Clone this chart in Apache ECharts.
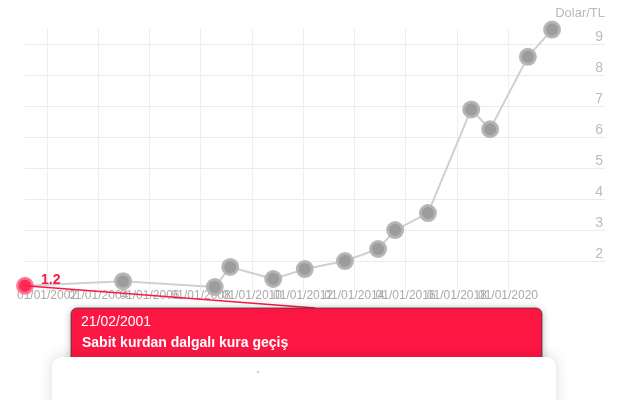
<!DOCTYPE html>
<html>
<head>
<meta charset="utf-8">
<script src="https://cdn.jsdelivr.net/npm/echarts@6/dist/echarts.min.js"></script>
<style>html,body{margin:0;padding:0;background:#fff;}#c{width:619px;height:400px;}</style>
</head>
<body>
<div id="c"></div>
<script>
var dates = ['2001-02-21','2004-12-20','2008-07-20','2009-02-25','2010-11-01','2012-01-25','2013-08-20','2014-12-05','2015-08-05','2016-11-15','2018-07-25','2019-04-20','2020-10-10','2021-09-20'];
var rates = [1.2,1.35,1.16,1.81,1.42,1.74,2.0,2.39,3.0,3.55,6.9,6.26,8.6,9.48];
var xTickDates = ['2002-01-01','2004-01-01','2006-01-01','2008-01-01','2010-01-01','2012-01-01','2014-01-01','2016-01-01','2018-01-01','2020-01-01'];
var xRange = ['2001-02-21','2023-10-15'];
var yTicks = [2,3,4,5,6,7,8,9];
var yAxisName = 'Dolar/TL';
var noteDate = '21/02/2001';
var noteText = 'Sabit kurdan dalgalı kura geçiş';
var highlightIndex = 0;

var FONT = "'Liberation Sans', Arial, sans-serif";
var RED = '#ff1744';
function ts(d) { return Date.parse(d + 'T00:00:00Z'); }

var chart = echarts.init(document.getElementById('c'), null, {renderer: 'canvas'});

var seriesData = dates.map(function (d, i) {
  var item = { value: [ts(d), rates[i]] };
  if (i === highlightIndex) {
    item.symbolSize = 15;
    item.itemStyle = { color: '#ff2a55', borderColor: 'rgba(255,110,140,0.85)', borderWidth: 3 };
    item.label = {
      show: true, position: 'right', distance: 7, offset: [0, -6],
      formatter: function (p) { return String(p.value[1]); },
      color: RED, fontWeight: 'bold', fontSize: 14, fontFamily: FONT
    };
  }
  return item;
});

var xMin = ts(xRange[0]), xMax = ts(xRange[1]);
var xTickValues = xTickDates.map(ts);
// guard values at the axis ends carry empty labels so every real label stays visible
var xLabelValues = [xMin].concat(xTickValues, [xMax]);

chart.setOption({
  animation: false,
  grid: { left: 25, right: 14, top: 29, bottom: 108, containLabel: false },
  xAxis: {
    type: 'value',
    min: xMin,
    max: xMax,
    axisLine: { show: false },
    axisTick: { show: false, customValues: xTickValues },
    splitLine: { show: true, lineStyle: { color: '#eeeeee', width: 1 } },
    axisLabel: {
      customValues: xLabelValues,
      showMinLabel: false,
      showMaxLabel: false,
      margin: -2,
      color: '#aaaaaa',
      fontSize: 12,
      fontFamily: FONT,
      hideOverlap: false,
      formatter: function (v) {
        if (v === xMin || v === xMax) return '';
        var d = new Date(v);
        return '01/01/' + d.getUTCFullYear();
      }
    }
  },
  yAxis: {
    type: 'value',
    position: 'right',
    min: 1,
    max: 9.5,
    interval: 1,
    name: yAxisName,
    nameLocation: 'end',
    nameGap: 16,
    nameTextStyle: { color: '#bbbbbb', fontSize: 13, fontFamily: FONT, align: 'right', verticalAlign: 'middle' },
    axisLine: { show: false },
    axisTick: { show: false, customValues: yTicks },
    splitLine: { show: true, lineStyle: { color: '#ebebeb', width: 1 } },
    axisLabel: {
      customValues: yTicks,
      inside: true,
      margin: 2,
      verticalAlign: 'bottom',
      color: '#bbbbbb',
      fontSize: 14,
      fontFamily: FONT
    }
  },
  series: [{
    type: 'line',
    data: seriesData,
    clip: false,
    symbol: 'circle',
    symbolSize: 15,
    lineStyle: { color: '#d0d0d0', width: 2 },
    itemStyle: { color: '#9c9c9c', borderColor: 'rgba(180,180,180,0.95)', borderWidth: 3 },
    emphasis: { disabled: true },
    z: 3
  }]
});

function drawNote() {
  var p = chart.convertToPixel({ seriesIndex: 0 }, [ts(dates[highlightIndex]), rates[highlightIndex]]);
  chart.setOption({
    graphic: [
      { type: 'line', z: 50, shape: { x1: p[0], y1: p[1], x2: 315, y2: 308 },
        style: { stroke: RED, lineWidth: 1.5 } },
      { type: 'rect', z: 60, shape: { x: 71, y: 308, width: 471, height: 62, r: 6 },
        style: { fill: RED, stroke: 'rgba(60,60,60,0.8)', lineWidth: 1, shadowBlur: 8, shadowColor: 'rgba(0,0,0,0.25)', shadowOffsetY: 1 } },
      { type: 'text', z: 61, x: 81, y: 322,
        style: { text: noteDate, fill: '#ffffff', font: '14px ' + FONT, verticalAlign: 'middle' } },
      { type: 'text', z: 61, x: 82, y: 343,
        style: { text: noteText, fill: '#ffffff', font: 'bold 14px ' + FONT, verticalAlign: 'middle' } },
      { type: 'rect', z: 70, shape: { x: 52, y: 357, width: 504, height: 70, r: 10 },
        style: { fill: '#ffffff', shadowBlur: 14, shadowColor: 'rgba(0,0,0,0.15)', shadowOffsetY: -1 } },
      { type: 'circle', z: 71, shape: { cx: 258, cy: 372, r: 1 }, style: { fill: '#bbbbbb' } }
    ]
  });
}
drawNote();
</script>
</body>
</html>
